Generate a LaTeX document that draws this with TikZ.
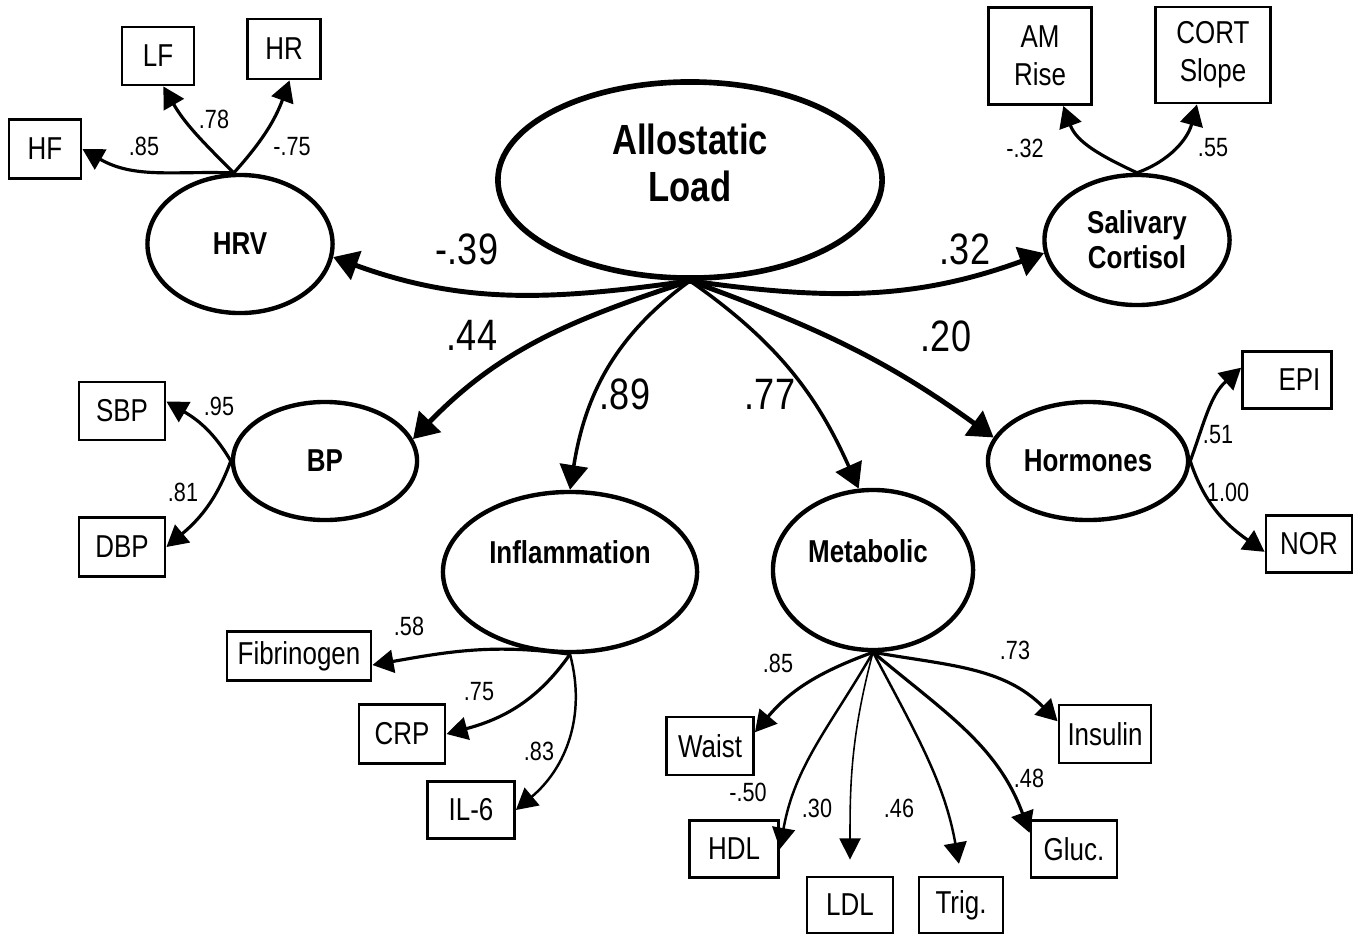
\documentclass[tikz,border=0pt]{standalone}
\usepackage{fontspec}
\setmainfont{Liberation Sans}[FakeStretch=0.82]
\usetikzlibrary{arrows.meta,shapes.geometric}
\tikzset{
  lat/.style={ellipse, draw, line width=1.25pt, inner sep=0pt, align=center,
              font=\bfseries\fontsize{9}{10}\selectfont},
  ltxt/.style={align=center, inner sep=0pt, font=\bfseries\fontsize{9}{10}\selectfont},
  obs/.style={rectangle, draw, line width=0.8pt, inner sep=0pt, align=center,
              font=\fontsize{9}{10.8}\selectfont},
  ar/.style={-{Triangle[length=7pt,width=8.5pt]}, line width=1.4pt},
  arm/.style={-{Triangle[length=7pt,width=8pt]}, line width=1pt},
  arl/.style={-{Triangle[length=6pt,width=6.5pt]}, line width=0.9pt},
  arthin/.style={-{Triangle[length=6pt,width=6pt]}, line width=0.45pt},
  lbl/.style={font=\fontsize{7.5}{9}\selectfont, inner sep=0pt},
  biglbl/.style={font=\fontsize{12.5}{14}\selectfont, inner sep=0pt},
}

\begin{document}
\begin{tikzpicture}[x=0.01cm, y=0.01cm]
  \useasboundingbox (0,0) rectangle (1358,935);

  % latent factors
  \node[lat, line width=1.6pt, minimum width=3.84cm, minimum height=1.96cm,
        label={[ltxt, font=\bfseries\fontsize{12}{13.4}\selectfont, yshift=0.17cm]center:Allostatic\\Load}] (al) at (690,755) {};
  \node[lat, minimum width=1.85cm, minimum height=1.38cm] (hrv) at (240,691) {HRV};
  \node[lat, minimum width=1.85cm, minimum height=1.30cm] (cort) at (1137,695) {Salivary\\Cortisol};
  \node[lat, minimum width=1.84cm, minimum height=1.18cm] (bp) at (325,474) {BP};
  \node[lat, minimum width=2.00cm, minimum height=1.18cm] (horm) at (1088,474) {Hormones};
  \node[lat, minimum width=2.54cm, minimum height=1.60cm,
        label={[ltxt, yshift=0.2cm]center:Inflammation}] (infl) at (570,363) {};
  \node[lat, minimum width=2.00cm, minimum height=1.60cm,
        label={[ltxt, yshift=0.19cm, xshift=-0.05cm]center:Metabolic}] (meta) at (873,365) {};

  % observed measures
  \node[obs, minimum width=0.72cm, minimum height=0.59cm] (hf) at (45,786) {HF};
  \node[obs, minimum width=0.72cm, minimum height=0.58cm] (lf) at (158,879) {LF};
  \node[obs, minimum width=0.73cm, minimum height=0.60cm] (hr) at (284,886) {HR};
  \node[obs, minimum width=1.03cm, minimum height=0.97cm] (amrise) at (1040,879) {AM\\Rise};
  \node[obs, minimum width=1.15cm, minimum height=0.96cm] (cortslope) at (1213,880) {CORT\\Slope};
  \node[obs, minimum width=0.86cm, minimum height=0.58cm] (sbp) at (122,524) {SBP};
  \node[obs, minimum width=0.86cm, minimum height=0.59cm] (dbp) at (122,388) {DBP};
  \node[obs, minimum width=0.89cm, minimum height=0.57cm] (epi) at (1287,555) {\hspace{0.25cm}EPI};
  \node[obs, minimum width=0.86cm, minimum height=0.57cm] (nor) at (1309,391) {NOR};
  \node[obs, minimum width=1.44cm, minimum height=0.49cm] (fib) at (299,279) {Fibrinogen};
  \node[obs, minimum width=0.86cm, minimum height=0.59cm] (crp) at (402,201) {CRP};
  \node[obs, minimum width=0.87cm, minimum height=0.57cm] (il6) at (471,125) {IL-6};
  \node[obs, minimum width=0.87cm, minimum height=0.58cm] (waist) at (710,189) {Waist};
  \node[obs, minimum width=0.89cm, minimum height=0.57cm] (hdl) at (734,86) {HDL};
  \node[obs, minimum width=0.86cm, minimum height=0.56cm] (ldl) at (850,30) {LDL};
  \node[obs, minimum width=0.84cm, minimum height=0.56cm] (trig) at (961,30) {Trig.};
  \node[obs, minimum width=0.86cm, minimum height=0.57cm] (gluc) at (1074,86) {Gluc.};
  \node[obs, minimum width=0.92cm, minimum height=0.58cm] (ins) at (1105,201) {Insulin};

  % structural paths
  \draw[ar] (al.south) to[out=188, in=-20] (hrv.-8);
  \draw[ar] (al.south) to[out=-8, in=200] (cort.188);
  \draw[ar] (al.south) to[out=198, in=46] (bp.14);
  \draw[arm] (al.south) to[out=216, in=81] (infl.north);
  \draw[arm] (al.south) to[out=-35, in=114] (meta.100);
  \draw[ar] (al.south) to[out=-20, in=144] (horm.166);

  % loadings
  \draw[arl] (hrv.95) to[out=178, in=-30] (hf.east);
  \draw[arl] (hrv.95) to[out=135, in=-60] (lf.-80);
  \draw[arl] (hrv.95) to[out=48, in=-110] (hr.-80);
  \draw[arl] (cort.north) to[out=155, in=-70] (amrise.-65);
  \draw[arl] (cort.north) to[out=20, in=-105] (cortslope.-108);
  \draw[arl] (bp.west) to[out=120, in=-30] (sbp.12);
  \draw[arl] (bp.west) to[out=250, in=40] (dbp.east);
  \draw[arl] (horm.east) to[out=70, in=222] (epi.165);
  \draw[arl] (horm.east) to[out=-72, in=145] (nor.190);
  \draw[arl] (infl.south) to[out=172, in=10] (fib.-7);
  \draw[arl] (infl.south) to[out=235, in=15] (crp.east);
  \draw[arl, line width=0.7pt] (infl.south) to[out=-75, in=40] (il6.east);
  \draw[arl] (meta.south) to[out=200, in=50] (waist.17);
  \draw[arl, line width=0.7pt] (meta.south) to[out=240, in=80] (hdl.east);
  \draw[arthin, shorten >=0.16cm] (meta.south) to[out=255, in=90] (ldl.north);
  \draw[arl, line width=0.7pt, shorten >=0.12cm] (meta.south) to[out=-62, in=100] (trig.north);
  \draw[arl] (meta.south) to[out=-40, in=110] (gluc.160);
  \draw[arl] (meta.south) to[out=-10, in=135] (ins.165);

  % coefficients
  \node[biglbl] (c-hrv) at (467,686) {-.39};
  \node[biglbl] (c-cort) at (965,686) {.32};
  \node[biglbl] (c-bp) at (472,600) {.44};
  \node[biglbl] (c-infl) at (625,541) {.89};
  \node[biglbl] (c-meta) at (770,541) {.77};
  \node[biglbl] (c-horm) at (946,599) {.20};
  \node[lbl] (c-hf) at (144,789) {.85};
  \node[lbl] (c-lf) at (214,816) {.78};
  \node[lbl] (c-hr) at (292,788) {-.75};
  \node[lbl] (c-amrise) at (1025,787) {-.32};
  \node[lbl] (c-cortslope) at (1213,787) {.55};
  \node[lbl] (c-sbp) at (219,529) {.95};
  \node[lbl] (c-dbp) at (183,443) {.81};
  \node[lbl] (c-epi) at (1218,500) {.51};
  \node[lbl] (c-nor) at (1228,443) {1.00};
  \node[lbl] (c-fib) at (409,309) {.58};
  \node[lbl] (c-crp) at (479,243) {.75};
  \node[lbl] (c-il6) at (539,184) {.83};
  \node[lbl] (c-waist) at (778,272) {.85};
  \node[lbl] (c-hdl) at (748,143) {-.50};
  \node[lbl] (c-ldl) at (817,127) {.30};
  \node[lbl] (c-trig) at (899,127) {.46};
  \node[lbl] (c-gluc) at (1029,157) {.48};
  \node[lbl] (c-ins) at (1015,285) {.73};
\end{tikzpicture}
\end{document}
